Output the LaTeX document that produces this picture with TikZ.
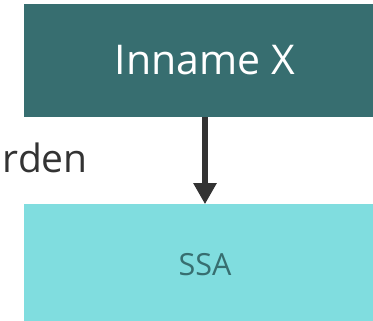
\documentclass[tikz,border=0pt]{standalone}
\usepackage{fontspec}
\setmainfont{Open Sans}
\usetikzlibrary{positioning,arrows.meta}

\definecolor{darkteal}{RGB}{55,110,112}
\definecolor{lightteal}{RGB}{128,221,223}
\definecolor{darkgray}{RGB}{51,51,51}

\begin{document}
\begin{tikzpicture}[x=1pt,y=1pt,>={Triangle[length=21pt,width=22pt]},node distance=87pt,
    box/.style={rectangle,minimum width=362pt,inner sep=0pt},
    top node/.style={box,fill=darkteal,text=white,minimum height=113pt,font=\fontsize{41}{41}\selectfont},
    bottom node/.style={box,fill=lightteal,text=darkteal,minimum height=120pt,font=\fontsize{30.5}{30.5}\selectfont}]

            \useasboundingbox (0,0) rectangle (373,321);

            \node[top node] (inname) at (205,260.5) {Inname X};
            \node[bottom node] (ssa) [below=of inname] {SSA};
            \node[anchor=base east,inner sep=0pt,text=darkgray,font=\fontsize{39}{39}\selectfont] (werden) at (88,148) {rden};

            \draw[->,line width=6.6pt,color=darkgray] (inname) -- (ssa);
        \end{tikzpicture}
\end{document}
